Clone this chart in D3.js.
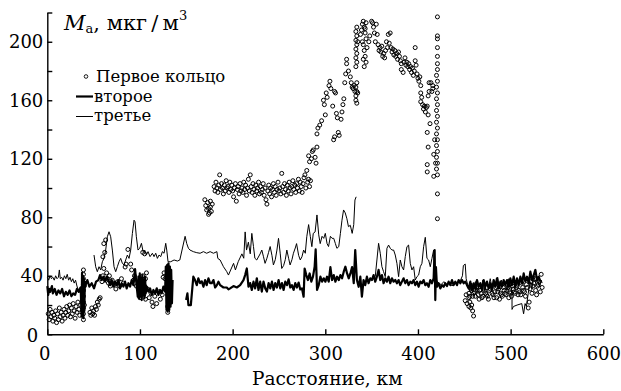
<!DOCTYPE html>
<html><head><meta charset="utf-8">
<script src="https://cdn.jsdelivr.net/npm/d3@7"></script>
<style>body{margin:0;background:#fff}svg{display:block}</style>
</head><body>
<script>
// ---- data ----
const xTicks=[0,100,200,300,400,500,600];
const yTicks=[0,20,40,60,80,100,120,140,160,180,200,220];
const yLabels=[0,40,80,120,160,200];
const xTitle="Расстояние, км";
const legendNames=["Первое кольцо","второе","третье"];

// третье кольцо (thin line), segments
const thirdA=[[0,39],[1.5,37],[3,40],[4.5,38],[6,39],[7.5,37],[9,40],[10.5,38],[12,39],[13,44],[14,38],[15.5,39],[17,37],[18.5,40],[20,38],[21.5,41],[23,37],[24.5,39],[26,36],[27.5,38],[29,35],[30.5,37],[32,33],[33.5,30],[35,32]];
const thirdB=[[50.4,54.2],[52.2,46.2],[54,42.8],[55.8,46.2],[57.6,44],[59.4,49.6],[61.2,51.9],[63,57.6],[64.8,66.7],[66.6,70.1],[68.4,66.7],[70.2,57.6],[72,46.2],[73.8,42.8],[75.6,46.2],[77.4,49.6],[79.2,51.9],[81,48.5],[82.8,47.4],[84.6,50.8],[86.4,54.2],[88.2,51.9],[90,57.6],[91.8,68.9],[93.6,78],[94.7,76.9],[96.1,66.7],[97.9,57.6],[99.7,58.8],[101.6,62.2],[103.4,56.5],[105.1,57.6],[106.9,54.2],[108.7,56.5],[110.9,53.1],[113.4,55.4],[115.2,53.1],[117,55.4],[118.8,51.9],[120.6,54.2],[122.4,53.1],[124.2,56.5],[126,55.4],[127.8,62.2],[128.9,57.6],[130.3,49.6],[133.2,49.6],[136.8,50.8],[140.4,50.1],[143,50.8],[148.7,67],[150.5,62],[152.3,58.8],[154,57.6],[157.6,56.5],[161.3,55.8],[164.9,55.4],[168.5,56.5],[172,55.4],[175.7,56.5],[179.3,55.4],[183,56.5],[184,51.9],[186.5,50.8],[190.1,46.2],[193.7,42.8],[195.5,40.5],[201,48.5],[203,44],[206,49.6],[210,55],[212,52],[213.5,70],[215,57.6],[217,63],[219,55],[220.7,69],[222.5,60],[224,52],[226,50.8],[229.7,55],[231.5,57.6],[233.3,53],[235,48.5],[237,52],[238.8,56],[240.5,60],[242.4,54],[244,47.4],[246,51],[247.8,57.6],[249.5,65.6],[251.4,55],[253,45],[255,47],[256.8,51],[258.5,57.6],[260.4,52],[262,47.4],[264,51],[265.6,55.4],[267.6,59],[269,62],[271.2,54],[273,50.8],[274.8,53],[276.6,57.6],[278.4,55.4],[280,66.7],[282,75],[283.8,67],[285.5,59.9],[287,69],[289,70],[291,81.6],[292.9,68],[294.5,62],[296.5,67],[298.3,65.6],[300,69],[301.9,62],[303.5,60],[305.5,67],[307.3,65.6],[309.1,65.6],[310.9,62],[312.5,58.8],[314.5,59.9],[316.3,69],[318,78],[319.7,85],[321.5,83],[323.3,79],[325,73.6],[327,74.5],[329,69],[330.7,75],[332,91.8],[333.3,94]];
const thirdC=[[353.9,39.4],[355.7,50.8],[357.5,62.2],[359.3,55.4],[361.1,46.2],[362.9,42.8],[364.7,39.4],[366.5,58.8],[368.3,61],[370.1,58.8],[371.9,57.6],[373.7,57.6],[375.5,54.2],[377.3,48.5],[379.1,39.4],[380.9,50.8],[382.7,46.2],[384.5,44],[386.3,53.1],[388.1,59.9],[389.9,61],[391.7,48.5],[393.5,44],[395.3,46.2],[397.1,37.1],[398.9,39.4],[400.7,40.5],[402.5,46.2],[404.3,48.5],[406.1,59.9],[407.9,66.3],[409.7,51.9],[411.5,50.8],[413.3,46.2],[415.1,51.9],[416.9,57.6],[418,37.1],[419,38],[422,35],[425,34],[428,36],[431,34],[434,35],[437,33],[440,36],[443,35],[446,37],[448,40],[449,47],[451,48],[452,38],[454,33],[456,30],[458,35],[460,31],[462,36],[464,29],[466,34],[468,31],[470,37],[472,30],[474,35],[476,32],[478,38],[480,31],[482,36],[484,33],[486,39],[488,31],[490,37],[492,33],[494,36],[496,30],[498,38],[500,33],[501.5,27],[501.5,17],[503,19],[507,20],[512,21],[514,14],[515.6,21],[517,19],[519,28],[521,36],[523,31],[525,40],[527,35],[529,38],[531,33],[533,37],[534,35]];

// второе кольцо (bold line), segments
const secondA=[[0,33],[1,27],[2,31],[3,29],[5,33],[6,28],[8,31],[10,27],[12,30],[14,28],[16,31],[18,26],[20,29],[22,27],[24,30],[26,26],[28,28],[30,27],[32,31],[34,29],[36,32],[37,12],[37.5,42],[38,14],[38.5,40],[39,11],[39.5,38],[40,16],[40.5,36],[40.7,32.6],[43.2,37.1],[45.4,32.6],[47.9,34.9],[50.4,31.4],[52.6,36],[55.1,37.1],[56.9,40.5],[58.7,37.1],[60.5,39.4],[62.3,36],[64.1,39.4],[65.9,37.1],[67.7,33.6],[69.5,37.1],[71.3,32.6],[73.1,36],[74.9,33.6],[76.7,37.1],[78.5,31.4],[80.3,34.9],[82.1,32.6],[83.9,36],[85.7,31.4],[87.5,34.9],[89.3,32.6],[91.1,37.1],[92.9,33.6],[94.7,44.5],[96.5,32.6],[97.6,25.7],[98.3,39.4],[99,24.6],[99.8,41.6],[100.5,25.7],[101.2,38.3],[101.9,23.4],[102.6,40.5],[103.4,26.9],[104.1,37.1],[104.8,24.6],[105.5,39.4],[106.2,28],[107.3,32.6],[109.1,29.2],[110.9,31.4],[112.7,26.9],[114.5,30.3],[116.3,28],[118.1,31.4],[119.9,26.9],[121.7,30.3],[123.5,28],[125.3,32.6],[127.1,29.2],[127.9,46.3],[128.6,16.6],[129.4,47.4],[130.1,15.5],[130.8,48.5],[131.6,16.6],[132.3,46.3],[133,18.9],[133.7,44],[134.5,21.2],[135.2,37.1]];
const secondB=[[149.8,23.5],[151.2,28],[152.3,20],[154.9,20],[156,28],[157.6,39.4],[159.4,37.1],[161.3,33.6],[163,38.3],[164.9,35],[166.7,36.2],[168.5,32.5],[170.3,37.1],[172,33.6],[173.9,38.3],[175.7,35],[177.5,35],[179.3,37.1],[181.1,32],[183,33.6],[184.7,36],[186.5,33.6],[190.1,32],[193.7,32],[195.5,30.7],[197.3,31.4],[200.9,33],[204.5,32],[208.1,33.6],[211.7,37.1],[213.5,40.5],[215.3,45],[217.1,32.5],[218.9,35],[220.7,30.3],[222.5,36],[224.3,31.4],[226.1,38.3],[227.9,30.3],[229.7,36],[231.5,29.2],[233.3,36],[235.2,31.4],[237,29.2],[238.8,35],[240.6,31.4],[242.4,36],[244.2,30.3],[246,35],[247.8,32],[249.6,37.1],[251.4,31.4],[253.2,35],[255,30.3],[256.8,36],[258.6,33.6],[260.4,37.6],[262.2,32],[264,33.6],[265.8,30.3],[267.6,35],[269.4,32],[271.2,35.4],[273,30.7],[274.8,31.4],[276.6,25.7],[277.7,45],[279.5,40.5],[281.3,37.1],[283.1,41.6],[284.9,36],[286.7,39.4],[288.5,46.2],[289.6,58],[291.1,30.3],[292.9,33.6],[294.7,39.4],[296.5,36],[298.3,38.3],[300.1,36],[301.9,39.4],[303.7,36],[305.5,46],[307.3,37.1],[309.1,40.5],[310.9,36],[312.7,39.4],[314.5,37.1],[316.3,40.5],[318.1,38.3],[319.9,42.8],[321.7,46.2],[323.5,41.6],[325.3,38.3],[327.1,41.6],[328.9,46],[330.7,35],[332.3,57.6],[334.1,37.1],[336,32.5],[337.8,39.4],[339.5,25.7],[341.3,37.1],[343.1,33.6],[344.9,39.4],[346.7,34.9],[348.5,38.3],[350.3,37.1],[352.1,40.5],[353.9,36],[355.7,39.4],[357.5,44],[359.3,37.1],[361.1,40.5],[362.9,34.9],[364.7,38.3],[366.5,36],[368.3,39.4],[370.1,34.9],[371.9,38.3],[373.7,36],[375.5,37.1],[377.3,34.9],[379.1,37.1],[380.9,33.6],[382.7,36],[384.5,38.3],[386.3,34.9],[388.1,37.1],[389.9,33.6],[391.7,36],[393.5,34.9],[395.3,37.1],[397.1,33.6],[398.9,36],[400.7,32.5],[402.5,36],[404.3,34.9],[406.1,37.1],[407.9,33.6],[409.7,34.9],[411.5,32.5],[413.3,37.1],[415.1,34.9],[416.9,38.3],[418,57.6],[418.7,23.4],[419.4,46],[420.5,32.5],[422.3,34.9],[424.1,31.4],[425.9,33.6],[427.7,32.5],[429.5,34.9],[431.3,33],[433.1,36],[434.9,33.6],[436.7,37.1],[438.5,33.6],[440.3,36],[442.1,33.6],[443.9,37.1],[445.7,34.9],[447.5,37.1],[449.3,34.9],[451.1,36],[452.9,33.6],[454.7,31.4],[456.5,36],[458.3,30.3],[460.1,34.9],[461.9,31.4],[463.7,37.1],[465.5,32.5],[467.3,34.9],[469.1,30.3],[470.9,37.1],[472.7,32.5],[474.5,36],[476.3,31.4],[478.1,34.9],[479.9,30.3],[481.7,37.1],[483.5,32.5],[485.3,38.3],[487.1,31.4],[488.9,36],[490.7,32.5],[492.5,37.1],[494.3,33.6],[496.1,37.1],[497.9,32.5],[499.7,38.3],[501.5,33.6],[503.3,39.4],[505.1,32.5],[506.9,38.3],[508.7,33.6],[510.5,39.4],[512.3,34.9],[514.1,41.6],[515.9,36],[517.7,39.4],[519.5,34.9],[521.3,42.8],[523.1,37.1],[524.9,40.5],[526.7,44],[528.5,37.1],[530.3,39.4],[532.1,36]];

// первое кольцо (circles)
const firstA=[[1,14],[2,10],[3,17],[4,12],[5,15],[6,9],[7,13],[8,11],[9,16],[10,8],[11,14],[12,10],[13,18],[14,12],[15,15],[16,9],[17,13],[18,17],[19,11],[20,15],[21,19],[22,13],[23,16],[24,20],[25,12],[26,18],[27,14],[28,21],[29,16],[30,11],[31,19],[32,15],[33,22],[34,17],[35,13],[36,20],[39,10],[39,14],[39,18],[39,22],[39,26],[39,30],[39,34],[39,38],[39,41],[39,44],[38,16],[38,28],[40,20],[40,33],[46,15],[47,13],[48,18],[49,14],[50,16],[51,13],[52,19],[53,17],[54,22],[55,20],[56,24],[57,25],[59,36],[60,40],[61,45],[60,53],[62,56],[61,62],[63,64.5],[64,42],[65,38],[66,35],[67,40],[68,33],[70,37],[72,34],[74,31],[76,36],[78,33],[80,38],[82,35],[84,46],[85,48],[87,58],[90,48],[91,44],[93,37],[94,40],[96,33],[100,25],[101,30],[102,35],[103,40],[104,27],[105,33],[106,38],[107,42],[103,56],[105,55],[102,29],[104,36],[106,24],[108,31],[110,25],[112,28],[113,22],[114,19],[116,26],[118,21],[120,29],[122,24],[124,27],[125,39],[127,38],[126,42],[130,15],[130,19],[131,23],[130,27],[131,31],[130,35],[131,39],[130,43]];
const firstB=[[170,92],[171,88],[172,85],[173,90],[174,86],[175,83],[176,87],[177,84],[178,89],[174,82],[176,91],[180,101],[181,98],[182,104],[183,100],[184,97],[185,102],[186,109],[187,99],[188,103],[189,100],[190,96],[191,102],[192,98],[193,105],[194,100],[195,101],[196,97],[197,104],[198,99],[199,102],[200,98],[201,94],[202,100],[203,103],[204,91],[205,99],[206,101],[207,96],[208,103],[209,98],[210,100],[211,97],[212,104],[213,99],[214,102],[215,95],[216,100],[217,106],[218,98],[219,109],[220,101],[221,97],[222,103],[223,99],[224,95],[225,102],[226,98],[227,100],[228,104],[229,96],[230,101],[231,97],[232,99],[233,103],[234,95],[235,100],[236,92],[237,89],[238,98],[239,102],[240,96],[241,100],[242,94],[243,99],[244,103],[245,97],[246,101],[247,95],[248,99],[249,104],[250,98],[251,100],[252,96],[253,110],[254,101],[255,97],[256,103],[257,99],[258,95],[259,102],[260,98],[261,104],[262,100],[263,96],[264,101],[265,105],[266,99],[267,102],[268,97],[269,103],[270,100],[271,106],[272,98],[273,104],[274,101],[275,97],[276,103],[277,107],[278,109],[279,100],[280,112],[281,104],[282,106],[283,101],[284,105]];
const firstC=[[282,122],[283,118],[285,120],[286,125],[287,126],[289,121],[290,117],[291,128],[291,137],[292,141],[294,143],[296,146],[298,160],[299,157],[300,150],[301,165],[302,162],[304,170],[305,173],[306,168],[308,156],[309,133],[310,135],[310,166],[311,165],[312,151],[313,148],[314,138],[315,136],[317,147],[318,152],[319,157],[320,161],[321,172],[322,178],[323,185],[323,188],[325,180],[327,176],[328,172],[329,169],[330,168],[331,170],[332,166],[333,160],[333,163],[334,166],[333,169],[334,172],[335,165],[334,158],[333,183],[334,186],[333,189],[334,192],[333,195],[334,198],[333,201],[334,204],[333,207],[334,210],[335,200],[338,205],[339,208],[340,212],[341,214],[342,210],[343,206],[344,202],[341,198],[342,194],[343,190],[344,186],[342,183],[340,200],[345,196],[341,188],[343,209],[344,213],[347,200],[348,204],[350,214],[351,213],[352,210],[353,206],[354,200],[355,212],[356,205],[357,198],[358,194],[359,196],[360,193],[361,197],[362,190],[363,192],[364,189],[365,194],[366,200],[367,196],[368,205],[369,199],[370,206],[371,196],[372,193],[373,195],[374,191],[375,194],[376,190],[377,192],[378,188],[379,193],[380,190],[381,187],[382,185],[382,181],[384,179],[385,186],[386,189],[387,184],[388,186],[389,183],[390,185],[391,181],[392,183],[393,179],[394,182],[395,177],[396,180],[397,196],[397,187],[398,184],[399,178],[400,175],[401,173],[402,176],[403,170],[403,165],[403,159],[404,162],[405,157],[406,154],[407,156],[408,152],[409,155],[410,156],[411,163],[412,166],[412,172],[413,144],[410,138],[411,128],[411,150],[410,116],[410,111],[415,166],[416,168],[417,123],[417,108],[418,133],[419,117],[414,172],[416,170],[421,217],[421,204],[421,202],[421,196],[421,190],[421,185],[421,181],[420,177],[421,173],[420,169],[421,165],[420,161],[421,157],[420,153],[421,149],[420,145],[421,141],[420,137],[421,133],[420,129],[421,125],[420,121],[421,117],[420,113],[421,109],[421,96],[421,79]];
const firstD=[[451,23],[453,21],[455,19],[456,22],[457,18],[458,20],[459,16],[460,12.5],[455,25],[452,27],[455,28],[457,31],[459,26],[461,29],[463,32],[465,27],[467,30],[469,25],[471,31],[473,28],[475,26],[477,30],[479,33],[481,27],[483,29],[485,25],[487,31],[489,28],[491,26],[493,30],[495,27],[497,32],[499,29],[501,26],[503,31],[505,28],[507,33],[509,30],[511,27],[513,32],[515,29],[517,34],[519,18],[520,22],[521,31],[523,28],[525,35],[527,30],[529,33],[531,36],[533,41],[534,32],[532,29],[530,34],[528,27],[526,38],[524,33],[522,36],[518,32],[516,26],[514,30],[512,35],[510,29],[508,27],[506,32],[504,29],[502,33],[500,28],[498,25],[496,30],[494,28],[492,32],[490,27],[488,24],[486,29],[484,32],[482,25],[480,28],[478,31],[476,24],[474,27],[472,30],[470,26],[468,28],[466,24],[464,30],[462,26],[460,28],[458,30],[456,26]];

// ---- drawing ----
const FONT="'DejaVu Serif',serif";
const W=621,H=391;
const svg=d3.select("body").append("svg").attr("width",W).attr("height",H).style("font-family",FONT);
const x=d3.scaleLinear().domain([0,600]).range([47.3,603.3]);
const y=d3.scaleLinear().domain([0,220]).range([334.3,12.5]);
const line=d3.line().x(d=>x(d[0])).y(d=>y(d[1]));

[thirdA,thirdB,thirdC].forEach(s=>svg.append("path").attr("d",line(s)).attr("fill","none").attr("stroke","#000").attr("stroke-width",1).attr("stroke-linejoin","round"));
[secondA,secondB].forEach(s=>svg.append("path").attr("d",line(s)).attr("fill","none").attr("stroke","#000").attr("stroke-width",2.2).attr("stroke-linejoin","round"));
svg.append("g").selectAll("circle").data([...firstA,...firstB,...firstC,...firstD]).join("circle")
  .attr("cx",d=>x(d[0])).attr("cy",d=>y(d[1])).attr("r",2).attr("fill","none").attr("stroke","#000").attr("stroke-width",1);

// axes
const gx=svg.append("g").attr("transform",`translate(0,${y(0)})`)
  .call(d3.axisBottom(x).tickValues(xTicks).tickSizeInner(-5).tickSizeOuter(0).tickPadding(13).tickFormat(d3.format("d")));
const gy=svg.append("g").attr("transform",`translate(${x(0)},0)`)
  .call(d3.axisLeft(y).tickValues(yTicks).tickSizeInner(-5).tickSizeOuter(0).tickPadding(4).tickFormat(d=>yLabels.includes(d)?d:""));
[gx,gy].forEach(g=>{g.selectAll("path,line").attr("stroke","#000").attr("stroke-width",1.4);
  g.selectAll("text").attr("font-family",FONT).attr("font-size",18).attr("fill","#000");});
gx.selectAll(".tick").filter(d=>d===0).select("text").attr("dx",-3);
gy.selectAll(".tick").filter(d=>d===0).select("text").attr("dx",-5).attr("dy","0.42em");

svg.append("text").attr("x",(x(0)+x(600))/2+2).attr("y",385).attr("text-anchor","middle").attr("font-size",18.5).text(xTitle);

// y title
const t=svg.append("text").attr("x",64).attr("y",30).attr("font-size",21);
t.append("tspan").attr("font-style","italic").attr("font-size",21).text("M");
t.append("tspan").attr("font-size",13).attr("dy",3).text("а");
t.append("tspan").attr("dy",-3).text(", мкг\u2009/\u2009м");
t.append("tspan").attr("font-size",13).attr("dy",-10).text("3");

// legend
svg.append("circle").attr("cx",86).attr("cy",76.5).attr("r",1.8).attr("fill","none").attr("stroke","#000").attr("stroke-width",0.9);
svg.append("text").attr("x",96).attr("y",82).attr("font-size",16.5).text(legendNames[0]);
svg.append("line").attr("x1",76).attr("x2",93).attr("y1",96.5).attr("y2",96.5).attr("stroke","#000").attr("stroke-width",2.2);
svg.append("text").attr("x",94).attr("y",101.5).attr("font-size",16.5).text(legendNames[1]);
svg.append("line").attr("x1",76).attr("x2",93).attr("y1",116.5).attr("y2",116.5).attr("stroke","#000").attr("stroke-width",1);
svg.append("text").attr("x",94).attr("y",121).attr("font-size",16.5).text(legendNames[2]);
</script>
</body></html>
